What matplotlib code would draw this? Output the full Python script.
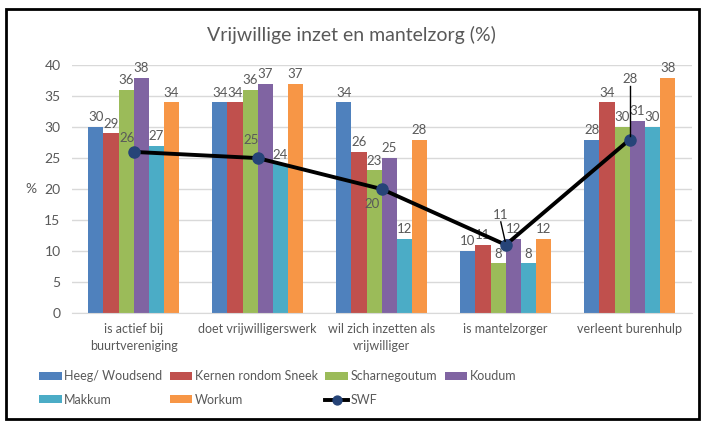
import numpy as np
import matplotlib
matplotlib.use('Agg')
import matplotlib.pyplot as plt
from matplotlib.patches import Rectangle

plt.rcParams['font.family'] = ['Lato', 'DejaVu Sans']

# data
categorieen = ['is actief bij\nbuurtvereniging', 'doet vrijwilligerswerk',
               'wil zich inzetten als\nvrijwilliger', 'is mantelzorger',
               'verleent burenhulp']
heeg = [30, 34, 34, 10, 28]
kernen = [29, 34, 26, 11, 34]
scharnegoutum = [36, 36, 23, 8, 30]
koudum = [38, 37, 25, 12, 31]
makkum = [27, 24, 12, 8, 30]
workum = [34, 37, 28, 12, 38]
swf = [26, 25, 20, 11, 28]

series = [('Heeg/ Woudsend', heeg, '#4F81BD'),
          ('Kernen rondom Sneek', kernen, '#C0504D'),
          ('Scharnegoutum', scharnegoutum, '#9BBB59'),
          ('Koudum', koudum, '#8064A2'),
          ('Makkum', makkum, '#4BACC6'),
          ('Workum', workum, '#F79646')]

grijs = '#595959'

fig = plt.figure(figsize=(7.03, 4.23), dpi=100)
ax = fig.add_axes([0.102, 0.26, 0.882, 0.586])

x = np.arange(len(categorieen))
breedte = 0.122
handles = {}
for i, (naam, waarden, kleur) in enumerate(series):
    pos = x + (i - 2.5) * breedte
    b = ax.bar(pos, waarden, breedte, color=kleur, label=naam, zorder=2)
    handles[naam] = b
    for px, v in zip(pos, waarden):
        ax.text(px, v + 0.6, str(v), ha='center', va='bottom', fontsize=9.5,
                color=grijs, clip_on=False)

lijn, = ax.plot(x, swf, color='black', lw=2.8, marker='o', markersize=8,
                markerfacecolor='#264478', markeredgecolor='#264478', zorder=4,
                label='SWF')
handles['SWF'] = lijn

# labels SWF (zoals in het origineel verschoven)
offsets = [(-0.05, 1.2), (-0.05, 1.9), (-0.08, -3.4), (-0.04, 3.9), (0.0, 8.8)]
for xi, v, (dx, dy) in zip(x, swf, offsets):
    ax.text(xi + dx, v + dy, str(v), ha='center', va='bottom', fontsize=9.5,
            color=grijs, zorder=5)
# hulplijnen
ax.plot([x[3] - 0.04, x[3] - 0.005], [swf[3] + 3.7, swf[3] + 0.6], color='black', lw=1, zorder=5)
ax.plot([x[4], x[4]], [swf[4] + 8.6, swf[4] + 0.5], color='black', lw=1, zorder=5)

ax.set_ylim(0, 40)
ax.set_xlim(-0.5, 4.5)
ax.set_yticks(np.arange(0, 41, 5))
ax.set_xticks(x)
ax.set_xticklabels(categorieen, fontsize=9, color=grijs, linespacing=1.5)
ax.tick_params(axis='y', labelsize=10, colors=grijs, length=0, pad=8)
ax.tick_params(axis='x', length=0, pad=7)
ax.grid(axis='y', color='#D9D9D9', lw=1, zorder=0)
for s in ['top', 'right', 'left']:
    ax.spines[s].set_visible(False)
ax.spines['bottom'].set_color('#D9D9D9')
ax.set_ylabel('%', rotation=0, fontsize=10, color=grijs, labelpad=10, va='center')

fig.text(0.5, 0.917, 'Vrijwillige inzet en mantelzorg (%)', ha='center', va='center',
         fontsize=14, color=grijs)

volgorde = ['Heeg/ Woudsend', 'Makkum', 'Kernen rondom Sneek', 'Workum',
            'Scharnegoutum', 'SWF', 'Koudum']
leg = fig.legend([handles[n] for n in volgorde], volgorde, ncol=4,
                 loc='center left', bbox_to_anchor=(0.04, 0.083), frameon=False,
                 fontsize=9, handlelength=1.8, handleheight=0.6,
                 columnspacing=0.6, labelspacing=0.95, handletextpad=0.2,
                 markerscale=0.8)
for t in leg.get_texts():
    t.set_color(grijs)

fig.patches.append(Rectangle((6 / 703, 1 - 419 / 423), 693 / 703, 410 / 423,
                             transform=fig.transFigure, fill=False,
                             edgecolor='black', lw=2))

plt.savefig('out.png', dpi=100)
